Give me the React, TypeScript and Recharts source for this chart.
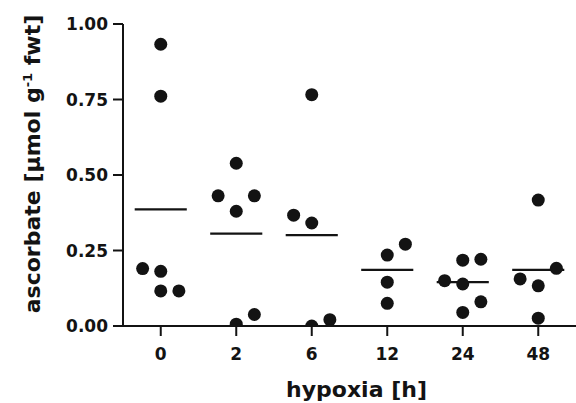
import React from 'react';
import { ScatterChart, Scatter, XAxis, YAxis, ReferenceLine } from 'recharts';

const categories = ['0', '2', '6', '12', '24', '48'];

// values per group (µmol g-1 fwt)
const values0 = [0.933, 0.761, 0.190, 0.181, 0.116, 0.116];
const values2 = [0.539, 0.431, 0.431, 0.380, 0.006, 0.038];
const values6 = [0.766, 0.367, 0.341, 0.0, 0.021];
const values12 = [0.235, 0.271, 0.145, 0.075];
const values24 = [0.218, 0.221, 0.150, 0.139, 0.080, 0.045];
const values48 = [0.417, 0.191, 0.156, 0.133, 0.026];

// column slot of each point within its group (-1 left, 0 centre, 1 right)
const slots0 = [0, 0, -1, 0, 0, 1];
const slots2 = [0, -1, 1, 0, 0, 1];
const slots6 = [0, -1, 0, 0, 1];
const slots12 = [0, 1, 0, 0];
const slots24 = [0, 1, -1, 0, 1, 0];
const slots48 = [0, 1, -1, 0, 0];

// group means (horizontal bars)
const means = [0.386, 0.306, 0.301, 0.186, 0.145, 0.186];

const yTicks = [0, 0.25, 0.5, 0.75, 1.0];

const groupValues = [values0, values2, values6, values12, values24, values48];
const groupSlots = [slots0, slots2, slots6, slots12, slots24, slots48];

const SLOT_STEP = 0.24;
const HALF = 0.345;

const points = groupValues.flatMap((vals, gi) =>
  vals.map((v, i) => ({ x: gi + groupSlots[gi][i] * SLOT_STEP, y: v }))
);

const FONT = 'DejaVu Sans';
const INK = '#131313';

const Dot = (props: any) => <circle cx={props.cx} cy={props.cy} r={6.5} fill={INK} />;

const YTitle = (props: any) => {
  const vb = props.viewBox || { x: 0, y: 0, width: 0, height: 0 };
  const x = vb.x + 40;
  const y = vb.y + vb.height / 2 - 11;
  return (
    <text
      x={x}
      y={y}
      transform={`rotate(-90, ${x}, ${y})`}
      textAnchor="middle"
      fontFamily={FONT}
      fontWeight="bold"
      fontSize={22}
      fill={INK}
    >
      <tspan>ascorbate [µmol g</tspan>
      <tspan dy={-8} fontSize={13}>-1</tspan>
      <tspan dy={8}> fwt]</tspan>
    </text>
  );
};

const XTitle = (props: any) => {
  const vb = props.viewBox || { x: 0, y: 0, width: 0, height: 0 };
  return (
    <text
      x={vb.x + vb.width / 2 + 7}
      y={vb.y + 71}
      textAnchor="middle"
      fontFamily={FONT}
      fontWeight="bold"
      fontSize={22}
      fill={INK}
    >
      hypoxia [h]
    </text>
  );
};

export default function App() {
  return (
    <div style={{ position: 'absolute', left: 0, top: 0, background: '#fff' }}>
      <ScatterChart width={576} height={403} margin={{ top: 24, right: 0, bottom: 0, left: 0 }}>
        <XAxis
          type="number"
          dataKey="x"
          domain={[-0.5, 5.5]}
          ticks={[0, 1, 2, 3, 4, 5]}
          tickFormatter={(v: number) => categories[v]}
          height={77}
          tickSize={10}
          tickMargin={12}
          axisLine={{ stroke: INK, strokeWidth: 2 }}
          tickLine={{ stroke: INK, strokeWidth: 2 }}
          tick={{ fontFamily: FONT, fontWeight: 'bold', fontSize: 17, fill: INK }}
          label={{ content: XTitle }}
          allowDataOverflow
        />
        <YAxis
          type="number"
          dataKey="y"
          domain={[0, 1]}
          ticks={yTicks}
          tickFormatter={(v: number) => v.toFixed(2)}
          width={123}
          tickSize={10}
          tickMargin={5}
          axisLine={{ stroke: INK, strokeWidth: 2 }}
          tickLine={{ stroke: INK, strokeWidth: 2 }}
          tick={{ fontFamily: FONT, fontWeight: 'bold', fontSize: 17, fill: INK }}
          label={{ content: YTitle }}
          allowDataOverflow
        />
        {means.map((m, i) => (
          <ReferenceLine
            key={i}
            segment={[
              { x: i - HALF, y: m },
              { x: i + HALF, y: m },
            ]}
            stroke={INK}
            strokeWidth={2.2}
          />
        ))}
        <Scatter data={points} shape={Dot} isAnimationActive={false} />
      </ScatterChart>
    </div>
  );
}
